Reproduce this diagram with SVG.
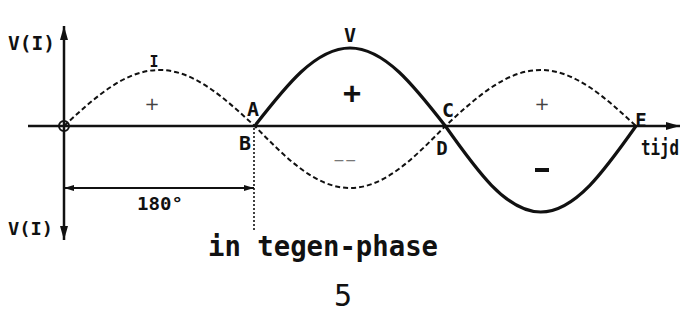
<svg xmlns="http://www.w3.org/2000/svg" width="688" height="322" viewBox="0 0 688 322">
<style>
  .ax{stroke:#111;stroke-width:2.5;fill:none}
  .dash{stroke:#111;stroke-width:2;fill:none;stroke-dasharray:5 3}
  .solid{stroke:#111;stroke-width:3.2;fill:none}
  .t{font-family:"DejaVu Sans Mono","Liberation Mono",monospace;font-weight:bold;fill:#111}
  .c{text-anchor:middle}
</style>
<defs>
  <marker id="ah" viewBox="0 0 14 8" refX="14" refY="4" markerWidth="14" markerHeight="8" markerUnits="userSpaceOnUse" orient="auto">
    <path d="M0,0 L14,4 L0,8 Z" fill="#111"/>
  </marker>
  <marker id="ahs" viewBox="0 0 10 6" refX="10" refY="3" markerWidth="10" markerHeight="6" markerUnits="userSpaceOnUse" orient="auto-start-reverse">
    <path d="M0,0 L10,3 L0,6 Z" fill="#111"/>
  </marker>
</defs>
<g id="axes">
  <line class="ax" x1="28" y1="126" x2="680" y2="126" marker-end="url(#ah)"/>
  <line class="ax" x1="64" y1="126" x2="64" y2="26" marker-end="url(#ah)"/>
  <line class="ax" x1="64" y1="126" x2="64" y2="240" marker-end="url(#ah)"/>
  <circle cx="64" cy="126" r="5" fill="none" stroke="#111" stroke-width="2"/>
</g>
<g id="curve-I">
  <path class="dash" d="M64,126 C95.09,97.31 124.83,70 159.33,70 C193.83,70 223.58,97.31 254.67,126 C285.76,157.76 315.5,188 350,188 C384.5,188 414.24,157.76 445.33,126 C476.42,97.31 506.17,70 540.67,70 C575.17,70 604.91,97.31 636,126"/>
</g>
<g id="curve-V">
  <path class="solid" d="M254.67,126 C285.76,86.04 315.5,48 350,48 C384.5,48 414.24,86.04 445.33,126 C476.42,170.06 506.17,212 540.67,212 C575.17,212 604.91,170.06 636,126"/>
</g>
<g id="dimension">
  <line x1="254" y1="128" x2="254" y2="230" stroke="#111" stroke-width="1.6" stroke-dasharray="2 2"/>
  <line x1="64" y1="188" x2="254" y2="188" stroke="#111" stroke-width="2" marker-start="url(#ahs)" marker-end="url(#ahs)"/>
  <text class="t c" x="160" y="210" font-size="18" textLength="46" lengthAdjust="spacingAndGlyphs">180°</text>
</g>
<g id="labels">
  <text class="t" x="8" y="50" font-size="20" textLength="47" lengthAdjust="spacingAndGlyphs">V(I)</text>
  <text class="t" x="8" y="235" font-size="18" textLength="45" lengthAdjust="spacingAndGlyphs">V(I)</text>
  <text class="t c" x="154" y="67" font-size="15">I</text>
  <text class="t c" x="350" y="42" font-size="20">V</text>
  <text class="t c" x="253" y="116" font-size="20">A</text>
  <text class="t c" x="245" y="150" font-size="20">B</text>
  <text class="t c" x="448" y="117" font-size="20">C</text>
  <text class="t c" x="442" y="155" font-size="19">D</text>
  <text class="t c" x="641" y="127" font-size="19">E</text>
  <text class="t" transform="translate(641,155) scale(0.72,1)" x="0" y="0" font-size="22">tijd</text>
  <text class="c" x="152" y="110" font-size="18" font-family="DejaVu Sans, sans-serif" fill="#444">+</text>
  <text class="t c" x="352" y="103" font-size="30">+</text>
  <text class="c" x="542" y="110" font-size="18" font-family="DejaVu Sans, sans-serif" fill="#444">+</text>
  <text class="c" x="345" y="165" font-size="14" font-family="DejaVu Sans, sans-serif" fill="#777">−−</text>
  <rect x="535" y="168" width="14" height="4" fill="#111"/>
  <text class="t" x="208" y="256" font-size="28" textLength="230" lengthAdjust="spacingAndGlyphs">in tegen-phase</text>
  <text class="c" x="343" y="306" font-size="30" font-family="DejaVu Sans Mono, monospace" fill="#111">5</text>
</g>
</svg>
